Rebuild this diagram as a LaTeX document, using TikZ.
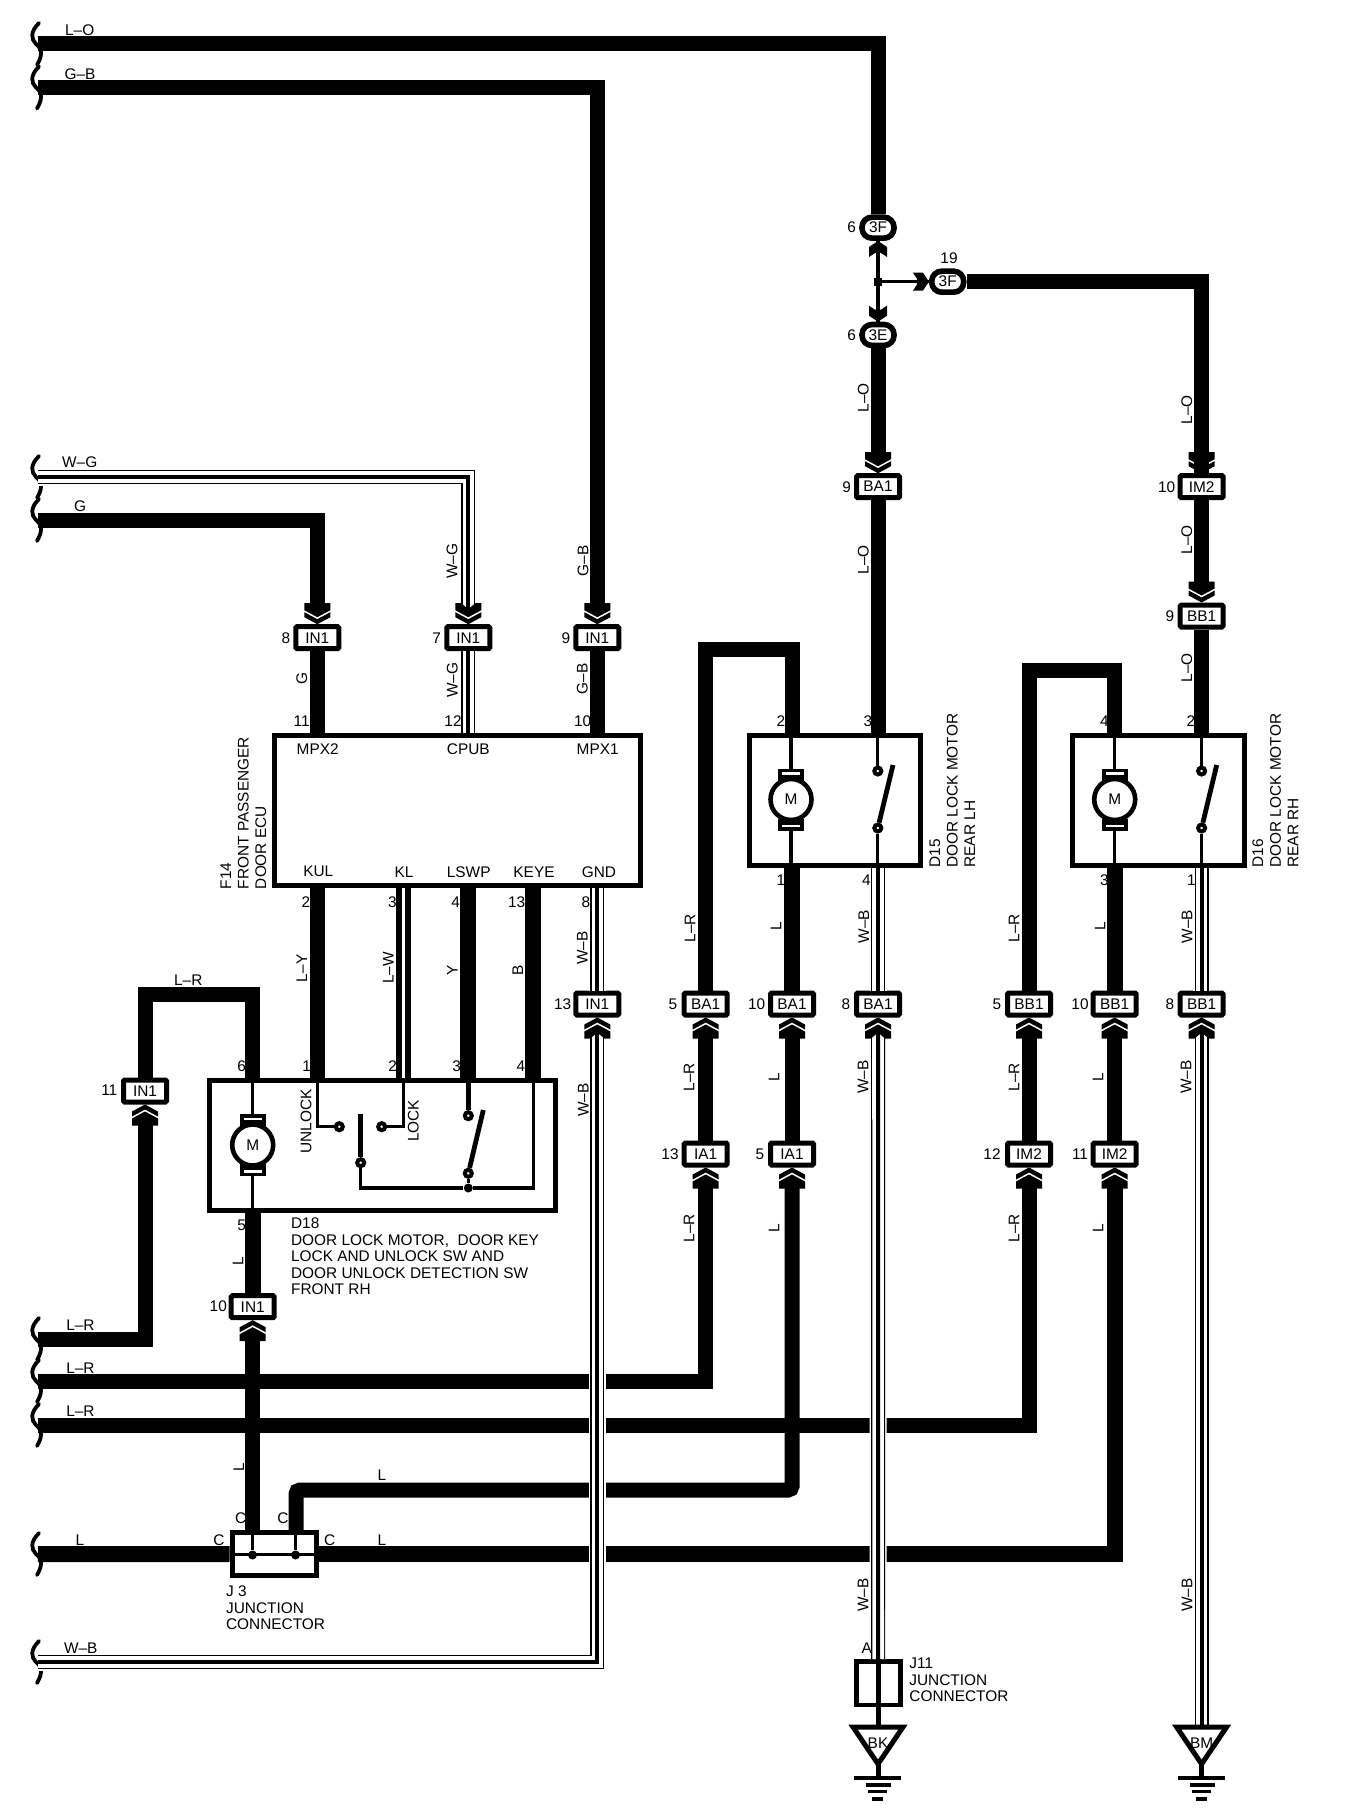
\documentclass[tikz,border=0pt]{standalone}
\usepackage{fontspec}
\setmainfont{Liberation Sans}
\tikzset{
  every node/.style={font=\fontsize{7.7}{8.2}\selectfont, inner sep=0pt},
  wire/.style={line width=7.5pt},
  inwire/.style={wire, shorten >=6pt},
  upwire/.style={wire, shorten <=6pt},
  stripewire/.style={line width=7pt, preaction={draw=white, line width=8.5pt}, postaction={draw=white, line width=5.8pt}, postaction={draw=black, line width=2pt}},
  splitwire/.style={wire, postaction={draw=white, line width=1.3pt}},
  iline/.style={line width=1.6pt},
  tline/.style={line width=2.4pt},
  conn/.style={draw, fill=white, line width=2.5pt, minimum width=21.5pt, minimum height=11pt, rounded corners=0.6pt},
  oval/.style={draw, fill=white, line width=2.8pt, minimum width=16pt, minimum height=10.5pt, rounded corners=5pt},
  unitbox/.style={draw, line width=2.5pt},
  cdot/.style={circle, draw, fill=white, line width=2pt, minimum size=3.5pt},
  bdot/.style={circle, fill=black, minimum size=4.5pt},
  rotlbl/.style={rotate=90},
  dchev/.pic={
    \fill (-13,-21) -- (-7,-21) -- (0,-15) -- (7,-21) -- (13,-21) -- (13,-14) -- (0,-7) -- (-13,-14) -- cycle;
    \fill (-13,-12) -- (0,-5) -- (13,-12) -- (13,-7) -- (0,0) -- (-13,-7) -- cycle;
  },
  schev/.pic={
    \fill (-9,-16) -- (-3,-12) -- (3,-12) -- (9,-16) -- (9,-6) -- (0,0) -- (-9,-6) -- cycle;
  },
  motor/.pic={
    \fill (-13,-31) rectangle (13,-19);
    \fill (-13,19) rectangle (13,31);
    \fill[white] (-9,-27.5) rectangle (9,-25);
    \fill[white] (-9,25) rectangle (9,27.5);
    \draw[line width=2.3pt, fill=white] (0,0) circle (20.5);
    \node (-m) at (0,0) {M};
  },
  pics/gnd/.style={code={
    \draw[line width=2.5pt] (-25,3) -- (25,3) -- (0,40) -- cycle;
    \node (-t) at (0,18.7) {#1};
    \draw[line width=2.5pt] (0,40) -- (0,54);
    \fill (-24,52) rectangle (23,56);
    \fill (-12,59) rectangle (13,63);
    \fill (-10,66) rectangle (9,69);
    \fill (-6,73) rectangle (5,77);
  }},
}
\begin{document}
\begin{tikzpicture}[x=0.5pt, y=-0.5pt]
  \useasboundingbox (0,0) rectangle (1344,1818);
  % Units
  \node[unitbox, minimum width=183.25pt, minimum height=75pt] (ecu) at (457.25,810.5) {};
  \node[unitbox, minimum width=172.6pt, minimum height=64.75pt] (dxviii) at (382.4,1145.25) {};
  \node[unitbox, minimum width=85.5pt, minimum height=64.7pt] (dxv) at (834.5,800.5) {};
  \node[unitbox, minimum width=85.75pt, minimum height=64.7pt] (dxvi) at (1158.25,800.5) {};
  \node[unitbox, fill=white, minimum width=42.25pt, minimum height=21.6pt] (jiii) at (274.25,1554.1) {};
  \node[unitbox, line width=2.3pt, minimum width=22pt, minimum height=21.75pt] (jxi) at (878.2,1683.2) {};
  % Connectors
  \node[oval] (ovfa) at (878,227.7) {3F};
  \node[oval] (ove) at (878,335) {3E};
  \node[oval] (ovfb) at (947.7,281.7) {3F};
  \node[conn] (bati) at (878,486.7) {BA1};
  \node[conn] (imtop) at (1201.6,486.7) {IM2};
  \node[conn] (bbtop) at (1201.6,616) {BB1};
  \node[conn] (ina) at (317.3,637.7) {IN1};
  \node[conn] (inb) at (468.3,637.7) {IN1};
  \node[conn] (inc) at (597.3,637.7) {IN1};
  \node[conn] (ind) at (597.3,1004) {IN1};
  \node[conn] (ine) at (145,1091) {IN1};
  \node[conn] (inf) at (252.7,1306.7) {IN1};
  \node[conn] (baa) at (705.7,1004) {BA1};
  \node[conn] (bab) at (792,1004) {BA1};
  \node[conn] (bac) at (878,1004) {BA1};
  \node[conn] (bba) at (1029,1004) {BB1};
  \node[conn] (bbb) at (1114.7,1004) {BB1};
  \node[conn] (bbc) at (1201.6,1004) {BB1};
  \node[conn] (iaa) at (705.7,1154) {IA1};
  \node[conn] (iab) at (792,1154) {IA1};
  \node[conn] (ima) at (1029,1154) {IM2};
  \node[conn] (imb) at (1114.7,1154) {IM2};
  % Free wire ends at the left edge
  \foreach \n/\y in {lo/44,gb/87.5,wg/477,g/520,lra/1339,lrb/1381,lrc/1425,l/1554,wb/1662}
    \coordinate (w\n) at (38,\y);
  \foreach \y in {44,87.5,477,520,1339,1381,1425,1554,1662}
    \draw[line width=1.9pt, line cap=round] (39,\y-21) .. controls (30,\y-12) and (31,\y-5) .. (36,\y) .. controls (44,\y+6) and (41,\y+14) .. (37,\y+21);
  % Wires from the top
  \draw[wire] (wlo) -| (ovfa);
  \draw[inwire] (wgb) -| (inc);
  \draw[inwire] (wg) -| (ina);
  \draw[wire] (ina) -- (ina |- ecu.north);
  \draw[wire] (inc) -- (inc |- ecu.north);
  \draw[inwire] (ove) -- (bati);
  \draw[wire] (bati) -- (bati |- dxv.north);
  \draw[wire] (ovfb) -| (imtop);
  \draw[inwire] (imtop) -- (bbtop);
  \draw[wire] (bbtop) -- (bbtop |- dxvi.north);
  % Branch below 3F
  \node[rectangle, fill=black, minimum size=4pt] (tee) at (878,281.7) {};
  \draw[line width=2.4pt] (ovfa) -- (ove);
  \draw[line width=1.5pt] (tee) -- (ovfb);
  % ECU to D18
  \draw[wire] (ecu.south -| 317.5,0) -- (317.5,1078);
  \draw[splitwire] (ecu.south -| 403.5,0) -- (403.5,1078);
  \draw[wire, line width=8pt] (ecu.south -| 468.3,0) -- (468.3,1078);
  \draw[wire, line width=8pt] (ecu.south -| 533,0) -- (533,1078);
  % D18 feed
  \coordinate (lrtop) at (200,994.3);
  \draw[wire] (ine) |- (lrtop) -| (dxviii.north -| 252.7,0);
  \draw[upwire] (ine) |- (wlra);
  \draw[wire, line width=8pt] (dxviii.south -| inf) -- (inf);
  \draw[upwire] (inf) -- (jiii.north -| inf);
  % Rear doors
  \coordinate (dxvtop) at (750,649);
  \coordinate (dxvitop) at (1070,670);
  \draw[wire] (baa) |- (dxvtop) -| (dxv.north -| bab);
  \draw[wire] (bba) |- (dxvitop) -| (dxvi.north -| bbb);
  \draw[wire, line width=8pt] (bab) -- (bab |- dxv.south);
  \draw[wire, line width=8pt] (bbb) -- (bbb |- dxvi.south);
  \draw[upwire] (baa) -- (iaa);
  \draw[upwire] (bab) -- (iab);
  \draw[upwire] (bba) -- (ima);
  \draw[upwire] (bbb) -- (imb);
  \draw[upwire] (iaa) |- (wlrb);
  \draw[upwire] (ima) |- (wlrc);
  \draw[upwire, rounded corners=2pt] (iab) |- (296,1490) -- (jiii.north -| 296,0);
  \draw[wire, line width=8pt] (wl) -- (jiii.west);
  \draw[wire, line width=8pt, shorten >=6pt] (jiii.east) -| (imb);
  % Striped wires
  \draw[stripewire, shorten >=6pt] (wwg) -| (inb);
  \draw[stripewire] (inb) -- (inb |- ecu.north);
  \draw[stripewire] (ecu.south -| ind) -- (ind);
  \draw[stripewire, shorten <=6pt] (ind) |- (wwb);
  \draw[stripewire] (bac |- dxv.south) -- (bac);
  \draw[stripewire] (bbc |- dxvi.south) -- (bbc);
  \draw[stripewire, shorten <=6pt] (bac) -- (jxi.north);
  \draw[stripewire, shorten <=6pt] (bbc) -- (1201.6,1726);
  % Chevrons
  \pic[rotate=180] at (ovfa.south) {schev};
  \pic at (ove.north) {schev};
  \pic[rotate=90] at (ovfb.west) {schev};
  \foreach \c in {bati,imtop,bbtop,ina,inb,inc}
    \pic at (\c.north) {dchev};
  \foreach \c in {ind,ine,inf,baa,bab,bac,bba,bbb,bbc,iaa,iab,ima,imb}
    \pic[rotate=180] at (\c.south) {dchev};
  % Inside D18
  \pic (mota) at (252.7,1145) {motor};
  \draw[iline] (252.7,1114) -- (252.7,1080);
  \draw[iline] (252.7,1176) -- (252.7,1210);
  \node[cdot] (sa) at (339.3,1126.7) {};
  \node[cdot] (sb) at (381.7,1126.7) {};
  \node[cdot] (sc) at (360.7,1162.7) {};
  \node[cdot] (sd) at (468.3,1115.7) {};
  \node[cdot] (se) at (468.3,1173.3) {};
  \node[bdot] (sf) at (468.3,1188) {};
  \coordinate (bladea) at (483.3,1110);
  \coordinate (armtop) at (360.7,1114);
  \draw[iline] (317.5,1080) |- (sa);
  \draw[iline] (403.5,1080) |- (sb);
  \draw[tline] (armtop) -- (sc);
  \draw[iline] (sc) |- (sf);
  \draw[iline] (sf) -| (533.3,1080);
  \draw[tline] (468.3,1080) -- (sd);
  \draw[tline] (se) -- (bladea);
  \draw[iline] (se) -- (sf);
  % Inside D15 and D16
  \foreach \m/\x in {motb/791,motc/1114.7} {
    \pic (\m) at (\x,799.5) {motor};
    \draw[iline] (\x,736) -- (\x,769);
    \draw[iline] (\x,830) -- (\x,865);
  }
  \node[cdot] (ta) at (877.8,771) {};
  \node[cdot] (tb) at (877.8,828) {};
  \node[cdot] (tc) at (1201.6,771) {};
  \node[cdot] (td) at (1201.6,828) {};
  \coordinate (bladeb) at (893,765);
  \coordinate (bladec) at (1216.7,765);
  \draw[iline] (877.8,736) -- (ta);
  \draw[iline] (tb) -- (877.8,865);
  \draw[tline] (tb) -- (bladeb);
  \draw[iline] (1201.6,736) -- (tc);
  \draw[iline] (td) -- (1201.6,865);
  \draw[tline] (td) -- (bladec);
  % Inside J3
  \node[bdot] (ja) at (252.5,1555) {};
  \node[bdot] (jb) at (295.5,1555) {};
  \draw[iline] (jiii.west) -- (jiii.east);
  \draw[iline] (jiii.north -| ja) -- (ja);
  \draw[iline] (jiii.north -| jb) -- (jb);
  % J11 and grounds
  \draw[line width=2.5pt] (jxi.north) -- (878.2,1726);
  \pic (gk) at (878,1724) {gnd={BK}};
  \pic (gm) at (1201.6,1724) {gnd={BM}};
  % Pin numbers, wire colours and terminal names
  \foreach \x/\y/\t [count=\i] in {851.7/227.7/6, 851.7/335/6, 949/258/19, 846.7/486.7/9, 1166.7/486.7/10, 1170/616/9,
      286/637.7/8, 436.7/637.7/7, 566/637.7/9, 301.7/720.7/11, 453/720.7/12, 582.7/720.7/10,
      781/720.7/2, 867.8/720.7/3, 1104.5/720.7/4, 1191/720.7/2, 781/880/1, 866.5/880/4, 1104.5/880/3, 1191.4/880/1,
      306/901.7/2, 392.3/901.7/3, 455.7/901.7/4, 516.7/901.7/13, 586/901.7/8,
      562.7/1004/13, 673/1004/5, 756.6/1004/10, 846/1004/8, 997/1004/5, 1080/1004/10, 1170/1004/8,
      670/1154/13, 760/1154/5, 992/1154/12, 1080/1154/11,
      241.7/1066/6, 306.7/1066/1, 392.7/1066/2, 456.7/1066/3, 521/1066/4, 241.7/1225/5, 109.3/1090/11, 218.3/1306/10,
      866.7/1648/A, 219/1540/C, 329.8/1540/C, 240.8/1518/C, 282.9/1518/C,
      79.7/30/L--O, 80/74.7/G--B, 79.7/462.5/W--G, 80/505.7/G, 188.3/980/L--R,
      80.4/1325/L--R, 80.4/1367.7/L--R, 80.4/1411/L--R, 80/1540/L, 80.8/1648.3/W--B, 382/1475/L, 382/1540/L,
      317.7/749/MPX2, 468.3/749/CPUB, 597.7/749/MPX1,
      318.3/871.7/KUL, 404/871.7/KL, 468.7/871.7/LSWP, 534/871.7/KEYE, 599/871.7/GND}
    \node (pl\i) at (\x,\y) {\t};
  \foreach \x/\y/\t [count=\i] in {863.3/398/L--O, 863.3/560/L--O, 1186.7/410/L--O, 1186.7/540/L--O, 1186.7/668/L--O,
      301.7/679/G, 452.3/680/W--G, 582.3/679/G--B, 452/561/W--G, 583/561/G--B,
      301.7/968.3/L--Y, 388.3/968/L--W, 452.3/970/Y, 517.7/970/B, 582.3/948.3/W--B, 583.3/1100/W--B,
      306/1121.3/UNLOCK, 413.3/1120.7/LOCK, 238/1261.7/L, 238.8/1466.7/L,
      690/928/L--R, 776/926.7/L, 863.7/926.7/W--B, 1014/928/L--R, 1100/926.7/L, 1187/926.7/W--B,
      689/1077/L--R, 774/1077/L, 863/1077/W--B, 1014/1077/L--R, 1098/1077/L, 1186/1077/W--B,
      689/1228/L--R, 774/1228/L, 1014/1228/L--R, 1098/1228/L, 863/1595/W--B, 1187/1595/W--B}
    \node[rotlbl] (rl\i) at (\x,\y) {\t};
  % Unit names
  \node[rotlbl, anchor=north west, align=left] (nameecu) at (220,889.5) {F14\\[0.6pt]FRONT PASSENGER\\[0.6pt]DOOR ECU};
  \node[rotlbl, anchor=north west, align=left] (namedxv) at (929,868) {D15\\[0.6pt]DOOR LOCK MOTOR\\[0.6pt]REAR LH};
  \node[rotlbl, anchor=north west, align=left] (namedxvi) at (1252,868) {D16\\[0.6pt]DOOR LOCK MOTOR\\[0.6pt]REAR RH};
  \node[anchor=north west, align=left] (namedxviii) at (290.7,1217) {D18\\[0.5pt]DOOR LOCK MOTOR,~~DOOR KEY\\LOCK AND UNLOCK SW AND\\DOOR UNLOCK DETECTION SW\\FRONT RH};
  \node[anchor=north west, align=left] (namejiii) at (225.7,1585) {J 3\\[0.5pt]JUNCTION\\CONNECTOR};
  \node[anchor=north west, align=left] (namejxi) at (909,1657) {J11\\[0.5pt]JUNCTION\\CONNECTOR};
\end{tikzpicture}
\end{document}
